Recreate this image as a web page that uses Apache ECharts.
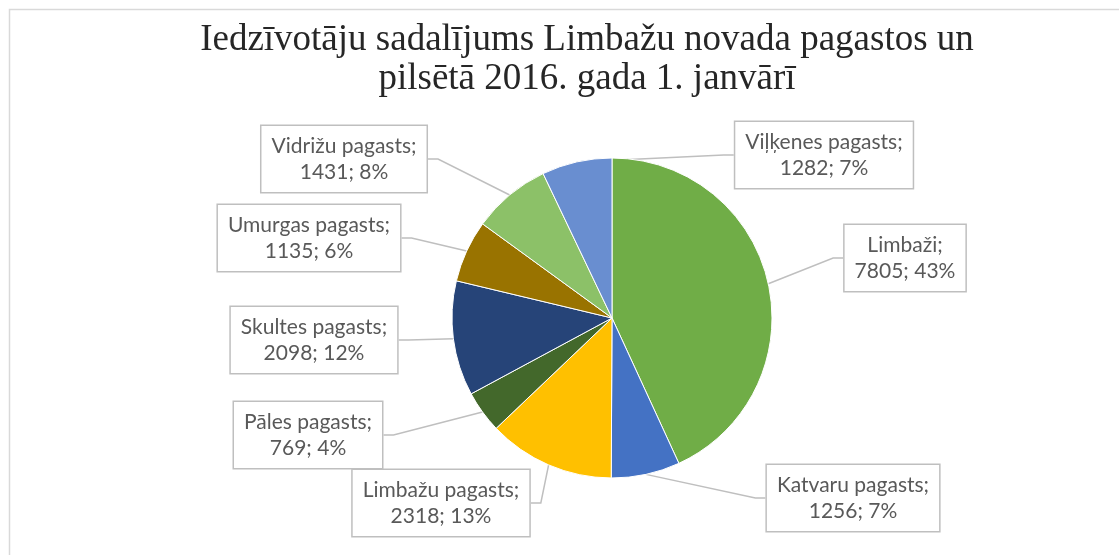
<!DOCTYPE html>
<html>
<head>
<meta charset="utf-8">
<script src="https://cdn.jsdelivr.net/npm/echarts@6/dist/echarts.min.js"></script>
<style>
html,body{margin:0;padding:0;background:#fff;}
#chart{width:1119px;height:555px;}
</style>
</head>
<body>
<div id="chart"></div>
<script>
const titleLines = ['Iedzīvotāju sadalījums Limbažu novada pagastos un', 'pilsētā 2016. gada 1. janvārī'];
const categories = ['Limbaži', 'Katvaru pagasts', 'Limbažu pagasts', 'Pāles pagasts', 'Skultes pagasts', 'Umurgas pagasts', 'Vidrižu pagasts', 'Viļķenes pagasts'];
const values = [7805, 1256, 2318, 769, 2098, 1135, 1431, 1282];
const colors = ['#70AD47', '#4472C4', '#FFC000', '#43682B', '#264478', '#997300', '#8CC168', '#698ED0'];

// label box centres (layout only)
const labelCenters = [
  [905, 258], [853, 498], [441, 503], [308, 435],
  [314, 340], [309, 238], [344, 159], [824, 155]
];

const chart = echarts.init(document.getElementById('chart'));
chart.setOption({
  backgroundColor: '#fff',
  animation: false,
  title: {
    text: titleLines.join('\n'),
    left: 582,
    textAlign: 'center',
    top: 16,
    textStyle: {
      fontFamily: 'Liberation Serif',
      fontSize: 37,
      fontWeight: 'normal',
      color: '#262626',
      lineHeight: 39
    }
  },
  graphic: [{
    type: 'polyline',
    silent: true,
    shape: { points: [[9.5, 600], [9.5, 9.5], [1119, 9.5]] },
    style: { stroke: '#D9D9D9', lineWidth: 1.5, fill: null }
  }],
  series: [{
    type: 'pie',
    center: [612, 318],
    radius: 160,
    startAngle: 90,
    clockwise: true,
    percentPrecision: 0,
    data: categories.map((c, i) => ({ name: c, value: values[i], itemStyle: { color: colors[i] } })),
    itemStyle: { borderColor: '#fff', borderWidth: 1 },
    label: {
      show: true,
      position: 'outside',
      formatter: '{b};\n{c}; {d}%',
      fontFamily: 'Lato',
      fontSize: 21,
      lineHeight: 26,
      color: '#595959',
      align: 'center',
      backgroundColor: '#fff',
      borderColor: '#BFBFBF',
      borderWidth: 1.5,
      padding: [7, 10]
    },
    labelLine: {
      show: true,
      length: 10,
      length2: 10,
      lineStyle: { color: '#BFBFBF', width: 1.5 }
    },
    labelLayout: function (params) {
      const p = labelCenters[params.dataIndex];
      return { x: p[0], y: p[1], align: 'center', verticalAlign: 'middle', moveOverlap: null };
    },
    emphasis: { disabled: true }
  }]
});
</script>
</body>
</html>
